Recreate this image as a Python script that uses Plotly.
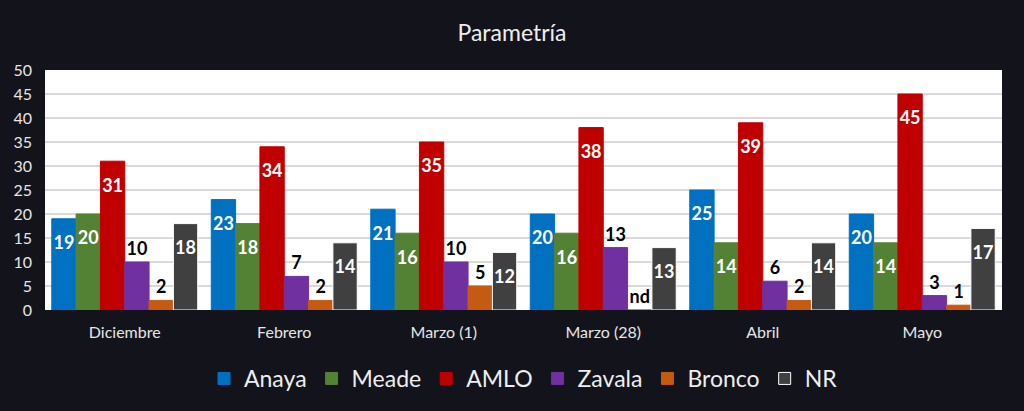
import plotly.graph_objects as go

meses = ["Diciembre", "Febrero", "Marzo (1)", "Marzo (28)", "Abril", "Mayo"]

anaya = [19, 23, 21, 20, 25, 20]
meade = [20, 18, 16, 16, 14, 14]
amlo = [31, 34, 35, 38, 39, 45]
zavala = [10, 7, 10, 13, 6, 3]
bronco = [2, 2, 5, None, 2, 1]
nr = [18, 14, 12, 13, 14, 17]

series = [
    ("Anaya", anaya, "#0070C0", "inside"),
    ("Meade", meade, "#548235", "inside"),
    ("AMLO", amlo, "#C00000", "inside"),
    ("Zavala", zavala, "#7030A0", "outside"),
    ("Bronco", bronco, "#C55A11", "outside"),
    ("NR", nr, "#404040", "inside"),
]

bg = "#13131b"
fig = go.Figure()

for name, vals, color, pos in series:
    ys = [v if v is not None else 0 for v in vals]
    labels = [str(v) if v is not None else "nd" for v in vals]
    if pos == "inside":
        # invisible small first line pushes the label down from the bar top
        labels = ["<span style='font-size:4px;color:rgba(0,0,0,0)'>.</span><br>" + t
                  for t in labels]
        txt_color = "white"
    else:
        txt_color = "black"
    fig.add_trace(go.Bar(
        x=meses, y=ys, name=name, text=labels,
        textposition=pos, insidetextanchor="end", constraintext="none",
        textangle=0,
        textfont=dict(family="Lato", size=18, color=txt_color, weight="bold"),
        marker=dict(color=color,
                    line=dict(color="white" if name == "NR" else color, width=1)),
        cliponaxis=False,
    ))

fig.update_layout(
    width=1024, height=411,
    paper_bgcolor=bg, plot_bgcolor="white",
    barmode="group", bargap=0.085, bargroupgap=0,
    margin=dict(l=45, r=22, t=70, b=100),
    font=dict(family="Lato", color="#e6e6e6"),
    title=dict(text="Parametría", x=0.5, xanchor="center", y=0.92, yanchor="middle",
               font=dict(size=23, color="#eeeeee")),
    legend=dict(orientation="h", x=0.5, xanchor="center", y=-0.28, yanchor="middle",
                font=dict(size=23, color="#eeeeee"), bgcolor="rgba(0,0,0,0)",
                itemwidth=30, traceorder="normal"),
    showlegend=True,
)

fig.update_xaxes(showgrid=False, showline=False, ticks="", ticklabelstandoff=11,
                 tickfont=dict(size=16, color="#e6e6e6"))
fig.update_yaxes(range=[0, 50], dtick=5, showgrid=True, gridcolor="#d9d9d9",
                 gridwidth=1.5, zeroline=False, ticks="", ticklabelstandoff=12,
                 tickfont=dict(size=16, color="#e6e6e6"))

fig.write_html("out.html", config={"displayModeBar": False},
               post_script="document.body.style.margin='0';")
